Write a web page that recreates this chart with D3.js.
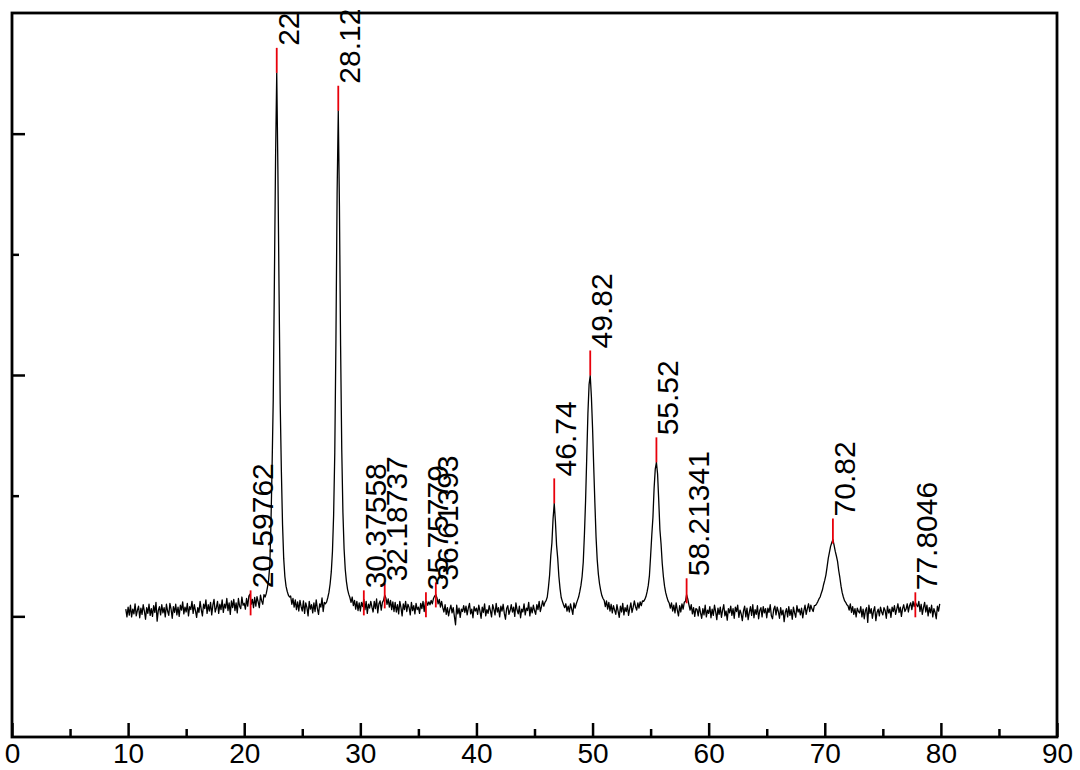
<!DOCTYPE html>
<html>
<head>
<meta charset="utf-8">
<script src="https://cdn.jsdelivr.net/npm/d3@7"></script>
<style>
  html, body { margin: 0; padding: 0; background: #fff; }
  svg { display: block; }
  text { font-family: "Liberation Sans", Arial, sans-serif; }
</style>
</head>
<body>
<svg id="chart" width="1080" height="770"></svg>
<script>
// ---- data ----
const startAngle = 9.8;   // first 2θ sample
const stepAngle = 0.1;    // sampling step
const intensity = [
  30, -2,
  38, 5, 46, -2, 30, 10, 52, 2, 25, 42,
  -6, 34, 8, 48, 22, -12, 36, 12, 50, 4,
  32, 0, 44, 16, 58, -20, 24, 40, 6, 48,
  14, 36, -2, 50, 22, 4, 54, 30, -8, 40,
  16, 50, 6, 38, 0, 46, 26, 60, 10, 38,
  18, 54, 2, 40, 28, 62, 12, 48, 24, -4,
  36, 16, 62, 28, 2, 50, 32, 68, 12, 48,
  22, 58, 6, 46, 70, 18, 36, 62, 12, 50,
  28, 68, 16, 50, 34, 74, 24, 56, 8, 64,
  36, 70, 24, 56, 14, 74, 42, 32, 80, 46,
  54, 30, 74, 42, 84, 92, 50, 70, 36, 78,
  42, 82, 60, 36, 88, 64, 50, 90, 80, 95,
  120, 150, 210, 380, 620, 900, 1400, 1900, 2252, 1850,
  1350, 880, 600, 380, 240, 165, 125, 104, 88, 80,
  84, 50, 74, 38, 68, 28, 60, 22, 66, 40,
  22, 64, 12, 56, 36, 2, 62, 30, 48, 14,
  56, 20, 68, 32, 8, 52, 38, 76, 20, 58,
  52, 60, 78, 100, 135, 185, 270, 420, 680, 1150,
  1750, 2095, 1700, 1120, 690, 430, 280, 195, 145, 112,
  92, 78, 58, 80, 44, 66, 30, 62, 24, 56,
  22, 58, 40, 70, 28, 62, 12, 50, 34, 62,
  38, 18, 62, 32, 72, 14, 52, 64, 26, 58,
  66, 88, 76, 50, 72, 38, 66, 28, 60, 20,
  58, 18, 48, 10, 62, 36, 2, 52, 28, 62,
  20, 50, 36, 6, 58, 24, 44, 10, 54, 28,
  38, 12, 54, 32, 62, 20, 58, 62, 46, 60,
  48, 66, 52, 74, 84, 90, 76, 52, 70, 38,
  62, 36, 18, 48, 8, 36, 2, 28, 46, 14,
  36, 0, -35, 46, 10, 34, -4, 30, 20, 44,
  16, 42, 6, 34, 54, 10, 30, -6, 40, 22,
  34, 8, 46, 22, -8, 38, 16, 52, 2, 28,
  12, 44, 24, -2, 48, 30, 6, 54, 18, 36,
  -2, 42, 22, 50, 12, -12, 32, 44, 8, 24,
  48, 18, 38, 0, 56, 26, 10, 42, -6, 30,
  18, 52, 6, 34, 24, 58, 2, 38, 14, 46,
  24, 8, 48, 28, 62, 20, 40, 64, 42, 58,
  65, 80, 120, 170, 250, 305, 405, 468, 395, 295,
  240, 165, 115, 78, 62, 48, 36, 52, 22, 42,
  18, 52, 30, 8, 56, 34, 52, 66, 80, 102,
  128, 165, 225, 340, 480, 660, 840, 960, 998, 910,
  780, 620, 470, 330, 235, 175, 135, 108, 86, 74,
  66, 40, 64, 30, 58, 22, 50, 14, 44, 26,
  8, 48, 22, -4, 42, 18, 54, 6, 36, 20,
  46, 4, 32, 56, 16, 38, 64, 40, 26, 56,
  34, 60, 44, 64, 62, 70, 82, 102, 128, 170,
  250, 335, 410, 530, 610, 638, 590, 480, 360, 300,
  220, 165, 125, 98, 80, 64, 55, 34, 56, 22,
  46, 14, 56, 26, 2, 44, 18, 52, 30, 58,
  62, 90, 72, 48, 26, 48, 10, 36, 0, 32,
  28, 2, 40, 14, -8, 32, 6, 46, -2, 26,
  12, 40, -6, 30, 4, 46, 20, -14, 34, 8,
  38, -4, 26, 48, 2, 22, -16, 32, 14, 42,
  4, 32, -8, 38, 20, 46, -4, 26, 10, -18,
  22, 42, -2, 34, -14, 16, 40, 4, 48, -6,
  28, 8, 44, -10, 24, 36, -2, 40, 14, 32,
  -6, 34, 16, 48, 2, -10, 28, 42, 6, 38,
  20, -8, 36, 6, 26, -22, 16, 32, -2, 40,
  4, 28, -12, 38, 14, -4, 44, 18, 30, 6,
  34, -6, 24, 46, 8, 32, 52, 20, 46, 30,
  20, 44, 45, 52, 61, 72, 80, 96, 110, 132,
  150, 172, 205, 240, 265, 290, 305, 318, 295, 270,
  250, 228, 190, 160, 125, 98, 80, 65, 58, 48,
  44, 26, 52, 16, 40, 8, 32, -2, 34, 20,
  14, 40, -2, 30, -10, 24, 36, -25, 46, 12,
  32, -8, 22, 40, -18, 16, 30, 2, 38, 18,
  6, 36, 24, -8, 42, 14, 30, -4, 38, 20,
  44, 8, 30, 52, 16, 38, 0, 32, 48, 20,
  30, 52, 18, 44, 56, 28, 62, 40, 58, 48,
  40, 62, 20, 50, 8, 36, 58, 18, 46, 2,
  36, 14, 46, -2, 32, 16, -10, 42, 22, 52
];

// peak annotations
const peakLabels = ["20.59762", "22", "28.12", "30.37558", "32.18737", "35.75779",
                    "36.61393", "46.74", "49.82", "55.52", "58.21341", "70.82", "77.8046"];
const peakPos    = [20.55, 22.8, 28.1, 30.3, 32.1, 35.65, 36.5, 46.7, 49.8, 55.5, 58.1, 70.7, 77.8];
const peakHeight = [4, 2252, 2095, 4, 33, -4, 37, 468, 998, 638, 54, 302, -4];

const xDomain = [0, 90];
const yDomain = [-500, 2500];
const xMajorTicks = [0, 10, 20, 30, 40, 50, 60, 70, 80, 90];
const xMinorTicks = [5, 15, 25, 35, 45, 55, 65, 75, 85];
const yMajorTicks = [0, 1000, 2000];
const yMinorTicks = [500, 1500];

// ---- drawing ----
const L = 12, R = 1057, T = 13, B = 737;
const svg = d3.select("#chart");
const x = d3.scaleLinear().domain(xDomain).range([L, R]);
const y = d3.scaleLinear().domain(yDomain).range([B, T]);

const pts = intensity.map((v, i) => [startAngle + i * stepAngle, v]);

// data line
svg.append("path")
  .datum(pts)
  .attr("fill", "none")
  .attr("stroke", "#000")
  .attr("stroke-width", 1.3)
  .attr("stroke-linejoin", "round")
  .attr("d", d3.line().x(d => x(d[0])).y(d => y(d[1])));

// axes
const gx = svg.append("g").attr("transform", `translate(0,${B})`)
  .call(d3.axisBottom(x).tickValues(xMajorTicks).tickSize(-14).tickPadding(6).tickFormat(d3.format("d")));
gx.select(".domain").remove();
gx.selectAll(".tick line").attr("stroke", "#000").attr("stroke-width", 2.5);
gx.selectAll(".tick text").attr("font-size", 28).attr("fill", "#000")
  .attr("font-family", "'Liberation Sans', Arial, sans-serif");

const gxm = svg.append("g").attr("transform", `translate(0,${B})`)
  .call(d3.axisBottom(x).tickValues(xMinorTicks).tickSize(-8).tickFormat(""));
gxm.select(".domain").remove();
gxm.selectAll(".tick line").attr("stroke", "#000").attr("stroke-width", 2.5);

const gy = svg.append("g").attr("transform", `translate(${L},0)`)
  .call(d3.axisLeft(y).tickValues(yMajorTicks).tickSize(-13).tickFormat(""));
gy.select(".domain").remove();
gy.selectAll(".tick line").attr("stroke", "#000").attr("stroke-width", 2.5);

const gym = svg.append("g").attr("transform", `translate(${L},0)`)
  .call(d3.axisLeft(y).tickValues(yMinorTicks).tickSize(-7).tickFormat(""));
gym.select(".domain").remove();
gym.selectAll(".tick line").attr("stroke", "#000").attr("stroke-width", 2.5);

// frame
svg.append("rect")
  .attr("x", L).attr("y", T).attr("width", R - L).attr("height", B - T)
  .attr("fill", "none").attr("stroke", "#000").attr("stroke-width", 2.8);

// peak markers & labels
const markLen = 25;
const peaks = peakLabels.map((t, i) => ({ t, p: peakPos[i], h: peakHeight[i] }));
svg.selectAll("line.mark").data(peaks).enter().append("line")
  .attr("class", "mark")
  .attr("x1", d => x(d.p)).attr("x2", d => x(d.p))
  .attr("y1", d => y(d.h)).attr("y2", d => y(d.h) - markLen)
  .attr("stroke", "#e8000b").attr("stroke-width", 1.8);

svg.selectAll("text.plabel").data(peaks).enter().append("text")
  .attr("class", "plabel")
  .attr("transform", d => `translate(${x(d.p) + 22},${y(d.h) - markLen - 2}) rotate(-90)`)
  .attr("font-size", 30)
  .attr("fill", "#000")
  .text(d => d.t);
</script>
</body>
</html>
